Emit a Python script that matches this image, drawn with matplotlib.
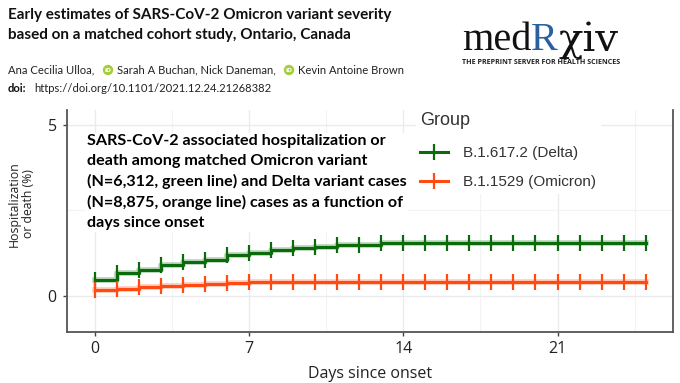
import matplotlib
matplotlib.use("Agg")
import matplotlib.pyplot as plt
import numpy as np

# ---- data ----
days = list(range(0, 26))
delta = [0.47, 0.67, 0.75, 0.90, 0.99, 1.04, 1.19, 1.26, 1.34, 1.40, 1.43, 1.48, 1.48,
         1.54, 1.54, 1.54, 1.54, 1.54, 1.54, 1.54, 1.54, 1.54, 1.54, 1.54, 1.54, 1.54]
omicron = [0.16, 0.20, 0.25, 0.28, 0.30, 0.35, 0.37, 0.41, 0.41, 0.41, 0.41, 0.41, 0.41,
           0.41, 0.41, 0.41, 0.41, 0.41, 0.41, 0.41, 0.41, 0.41, 0.41, 0.41, 0.41, 0.41]
series_labels = ["B.1.617.2 (Delta)", "B.1.1529 (Omicron)"]
series_colors = ["#0b6b0b", "#ff4a12"]
x_ticks = [0, 7, 14, 21]
y_ticks = [0, 5]

title_lines = ["Early estimates of SARS-CoV-2 Omicron variant severity",
               "based on a matched cohort study, Ontario, Canada"]
note_text = ("SARS-CoV-2 associated hospitalization or\n"
             "death among matched Omicron variant\n"
             "(N=6,312, green line) and Delta variant cases\n"
             "(N=8,875, orange line) cases as a function of\n"
             "days since onset")

W, H = 680, 383
fig = plt.figure(figsize=(W / 100, H / 100), dpi=100)
fig.patch.set_facecolor("white")

def fx(px):
    return px / W

def fy(py):
    return 1 - py / H

# ---- header ----
fig.text(fx(8), fy(15), title_lines[0], fontsize=11.0, fontweight="bold",
         family="Lato", va="center", ha="left", color="#111111")
fig.text(fx(8), fy(35), title_lines[1], fontsize=11.0, fontweight="bold",
         family="Lato", va="center", ha="left", color="#111111")

auth_fs = 8.1
auth_y = fy(70)
fig.text(fx(8), auth_y, "Ana Cecilia Ulloa,", fontsize=auth_fs, family="Lato",
         va="center", color="#222222")
fig.text(fx(117), auth_y, "Sarah A Buchan, Nick Daneman,", fontsize=auth_fs, family="Lato",
         va="center", color="#222222")
fig.text(fx(298), auth_y, "Kevin Antoine Brown", fontsize=auth_fs, family="Lato",
         va="center", color="#222222")
for cx in (108, 289):
    fig.text(fx(cx), auth_y, "iD", fontsize=4.2, color="white", family="DejaVu Sans",
             ha="center", va="center", fontweight="bold",
             bbox=dict(boxstyle="circle,pad=0.3", fc="#a6ce39", ec="none"))
fig.text(fx(8), fy(88), "doi:", fontsize=auth_fs, family="Lato", fontweight="bold",
         va="center", color="#111111")
fig.text(fx(34), fy(88), "https://doi.org/10.1101/2021.12.24.21268382", fontsize=auth_fs,
         family="Lato", va="center", color="#222222")

# medRxiv logo
logo_y = fy(40)
t1 = fig.text(fx(462), logo_y, "med", fontsize=29, family="Liberation Serif",
              va="center", ha="left", color="#111111")
fig.canvas.draw()
r = fig.canvas.get_renderer()
bb = t1.get_window_extent(r)
t2 = fig.text(bb.x1 / W, logo_y, "R", fontsize=29, family="Liberation Serif",
              va="center", ha="left", color="#2a5fa0")
bb2 = t2.get_window_extent(r)
t3 = fig.text(bb2.x1 / W, logo_y, "χiv", fontsize=29, family="DejaVu Serif",
              va="center", ha="left", color="#111111")
fig.text(fx(462), fy(63), "THE PREPRINT SERVER FOR HEALTH SCIENCES", fontsize=5.1,
         family="Open Sans", fontweight="bold", va="center", ha="left", color="#222222")

# ---- plot ----
left, right, top, bottom = 66.5, 673, 110, 331.5
ax = fig.add_axes([fx(left), fy(bottom), fx(right - left), (bottom - top) / H])
ax.set_xlim(-1.28, 26.24)
ax.set_ylim(-1.05, 5.44)
ax.set_facecolor("white")

ax.set_xticks(x_ticks)
ax.set_yticks(y_ticks)
ax.set_xticks([3.5, 10.5, 17.5, 24.5], minor=True)
ax.set_yticks([2.5], minor=True)
ax.grid(True, which="major", color="#ebebeb", lw=1.0)
ax.grid(True, which="minor", color="#f3f3f3", lw=0.8)
ax.tick_params(which="minor", length=0)
ax.tick_params(which="major", length=3, width=1, color="#444444", labelcolor="#222222",
               labelsize=11.5, pad=4)
for lab in ax.get_xticklabels() + ax.get_yticklabels():
    lab.set_family("Open Sans")
ax.set_axisbelow(True)

for s in ["left", "bottom", "right"]:
    ax.spines[s].set_color("#555555")
    ax.spines[s].set_linewidth(1.3)
ax.spines["top"].set_visible(False)

handles = []
for vals, col, lab in zip([delta, omicron], series_colors, series_labels):
    ax.step(days, vals, where="post", color=col, lw=4, alpha=0.3, zorder=3)
    h, = ax.step(days, vals, where="post", color=col, lw=2.2, zorder=4, label=lab,
                 marker="|", markersize=11, markeredgewidth=1.6)
    handles.append(h)

ax.set_xlabel("Days since onset", fontsize=11.5, family="Open Sans", color="#222222",
              labelpad=6)
fig.text(fx(14), fy(204), "Hospitalization", rotation=90, fontsize=8.8, family="Open Sans",
         ha="center", va="center", color="#222222")
fig.text(fx(29), fy(204), "or death (%)", rotation=90, fontsize=8.8, family="Open Sans",
         ha="center", va="center", color="#222222")

leg = ax.legend(handles=handles, title="Group", loc="upper left",
                bbox_to_anchor=((408 - left) / (right - left), (bottom - 100) / (bottom - top)),
                frameon=True, facecolor="white", edgecolor="none", framealpha=1,
                prop={"family": "Liberation Sans", "size": 11}, title_fontsize=13,
                handlelength=1.8, handletextpad=1.0, labelspacing=1.0, borderpad=0.3)
leg.get_title().set_family("Liberation Sans")
leg.get_title().set_color("#333333")
leg._legend_box.align = "left"
leg._legend_box.sep = 12
for t in leg.get_texts():
    t.set_color("#333333")

ax.text((87 - left) / (right - left), (bottom - 134) / (bottom - top), note_text,
        transform=ax.transAxes, fontsize=11.6, fontweight="bold", family="Lato",
        va="top", ha="left", color="black", linespacing=1.52, zorder=6,
        bbox=dict(fc="white", ec="none", pad=1))

fig.savefig("out.png", dpi=100, facecolor="white")
